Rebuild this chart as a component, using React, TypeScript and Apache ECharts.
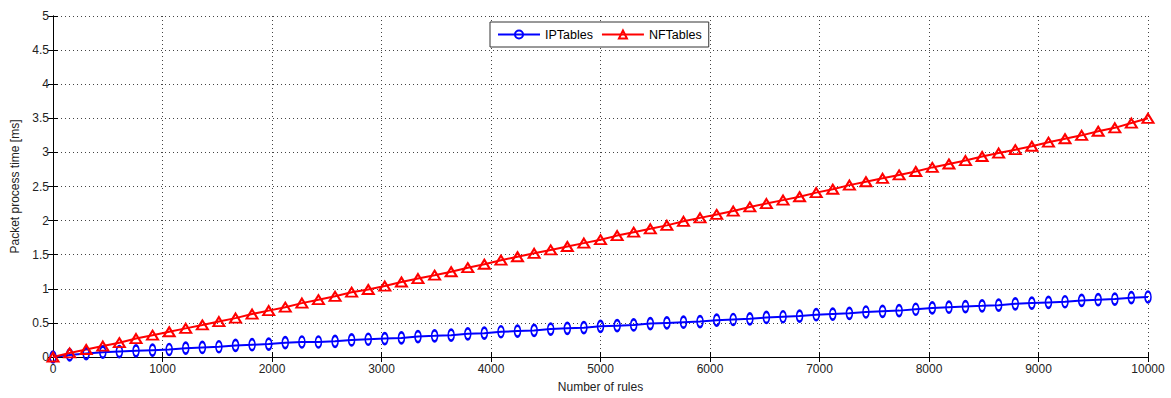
import React, { useEffect, useRef } from "react";
import * as echarts from "echarts";

const rules = [0, 152, 303, 455, 606, 758, 909, 1061, 1212, 1364, 1515, 1667, 1818, 1970, 2121, 2273, 2424, 2576, 2727, 2879, 3030, 3182, 3333, 3485, 3636, 3788, 3939, 4091, 4242, 4394, 4545, 4697, 4848, 5000, 5152, 5303, 5455, 5606, 5758, 5909, 6061, 6212, 6364, 6515, 6667, 6818, 6970, 7121, 7273, 7424, 7576, 7727, 7879, 8030, 8182, 8333, 8485, 8636, 8788, 8939, 9091, 9242, 9394, 9545, 9697, 9848, 10000];

const ipTables = [0.00, 0.03, 0.05, 0.07, 0.08, 0.09, 0.10, 0.11, 0.13, 0.14, 0.15, 0.17, 0.18, 0.19, 0.21, 0.22, 0.22, 0.23, 0.25, 0.26, 0.27, 0.28, 0.30, 0.31, 0.32, 0.34, 0.35, 0.37, 0.38, 0.39, 0.41, 0.42, 0.43, 0.45, 0.46, 0.47, 0.49, 0.50, 0.51, 0.52, 0.54, 0.55, 0.56, 0.58, 0.59, 0.60, 0.62, 0.63, 0.64, 0.66, 0.67, 0.68, 0.70, 0.72, 0.73, 0.74, 0.75, 0.76, 0.78, 0.79, 0.80, 0.81, 0.83, 0.84, 0.85, 0.87, 0.88];

const nfTables = [0.00, 0.06, 0.11, 0.16, 0.21, 0.27, 0.32, 0.37, 0.42, 0.47, 0.52, 0.57, 0.63, 0.68, 0.73, 0.79, 0.84, 0.89, 0.95, 0.99, 1.04, 1.10, 1.15, 1.20, 1.25, 1.31, 1.36, 1.42, 1.47, 1.52, 1.57, 1.62, 1.67, 1.72, 1.78, 1.83, 1.88, 1.93, 1.99, 2.04, 2.09, 2.14, 2.20, 2.25, 2.30, 2.35, 2.41, 2.46, 2.52, 2.57, 2.62, 2.67, 2.72, 2.78, 2.83, 2.88, 2.94, 2.99, 3.04, 3.09, 3.15, 3.20, 3.25, 3.31, 3.36, 3.43, 3.50];

const seriesNames = ["IPTables", "NFTables"];

const FONT = "Liberation Sans, Arial, sans-serif";
const TEXT = "#222";

export default function App() {
  const ref = useRef<HTMLDivElement>(null);
  useEffect(() => {
    document.body.style.margin = "0";
    if (!ref.current) return;
    const chart = echarts.init(ref.current, null, { renderer: "svg" });
    const axisCommon = {
      axisLine: { show: true, lineStyle: { color: "#000", width: 1 } },
      axisTick: { show: true, inside: true, length: 5, lineStyle: { color: "#000" } },
    };
    chart.setOption({
      animation: false,
      backgroundColor: "#fff",
      textStyle: { fontFamily: FONT },
      grid: { left: 53, right: 23, top: 16, bottom: 38, containLabel: false },
      legend: {
        left: 490,
        top: 22,
        orient: "horizontal",
        borderColor: "#333",
        borderWidth: 1,
        padding: [6, 7, 6, 7],
        itemGap: 8,
        itemWidth: 42,
        itemHeight: 10,
        backgroundColor: "#fff",
        textStyle: { fontSize: 12.5, color: "#000", fontFamily: FONT },
        data: seriesNames,
      },
      xAxis: [
        {
          type: "value",
          min: 0,
          max: 10000,
          interval: 1000,
          ...axisCommon,
          axisLabel: {
            fontSize: 12,
            color: TEXT,
            margin: 6,
            fontFamily: FONT,
            formatter: (v: number) => String(v),
          },
          splitLine: { show: true, lineStyle: { type: [1, 3], color: "#444", width: 1 } },
          name: "Number of rules",
          nameLocation: "middle",
          nameGap: 24,
          nameTextStyle: { fontSize: 12, color: TEXT, fontFamily: FONT },
        },
        {
          type: "value",
          position: "top",
          min: 0,
          max: 10000,
          interval: 1000,
          ...axisCommon,
          axisLabel: { show: false },
          splitLine: { show: false },
        },
      ],
      yAxis: [
        {
          type: "value",
          min: 0,
          max: 5,
          interval: 0.5,
          ...axisCommon,
          axisLabel: { fontSize: 12, color: TEXT, margin: 4, fontFamily: FONT },
          splitLine: { show: true, lineStyle: { type: [1, 3], color: "#444", width: 1 } },
          name: "Packet process time [ms]",
          nameLocation: "middle",
          nameGap: 32,
          nameTextStyle: { fontSize: 12, color: TEXT, fontFamily: FONT },
        },
        {
          type: "value",
          position: "right",
          min: 0,
          max: 5,
          interval: 0.5,
          ...axisCommon,
          axisLabel: { show: false },
          splitLine: { show: false },
        },
      ],
      series: [
        {
          name: seriesNames[0],
          type: "line",
          xAxisIndex: 0,
          yAxisIndex: 0,
          data: rules.map((x, i) => [x, ipTables[i]]),
          symbol: "path://M0,-5 A3,5 0 1 1 0,5 A3,5 0 1 1 0,-5 Z",
          symbolSize: [6, 11],
          symbolKeepAspect: false,
          showSymbol: true,
          showAllSymbol: true,
          lineStyle: { color: "#0000ff", width: 2 },
          itemStyle: { color: "rgba(255,255,255,0)", borderColor: "#0000ff", borderWidth: 2 },
          emphasis: { disabled: true },
        },
        {
          name: seriesNames[1],
          type: "line",
          xAxisIndex: 0,
          yAxisIndex: 0,
          data: rules.map((x, i) => [x, nfTables[i]]),
          symbol: "path://M0,-4 L5,4 L-5,4 Z",
          symbolSize: [11, 9],
          showSymbol: true,
          showAllSymbol: true,
          lineStyle: { color: "#ff0000", width: 2 },
          itemStyle: { color: "rgba(255,255,255,0)", borderColor: "#ff0000", borderWidth: 2 },
          emphasis: { disabled: true },
        },
      ],
    });
    return () => chart.dispose();
  }, []);
  return <div ref={ref} style={{ width: 1171, height: 398 }} />;
}
